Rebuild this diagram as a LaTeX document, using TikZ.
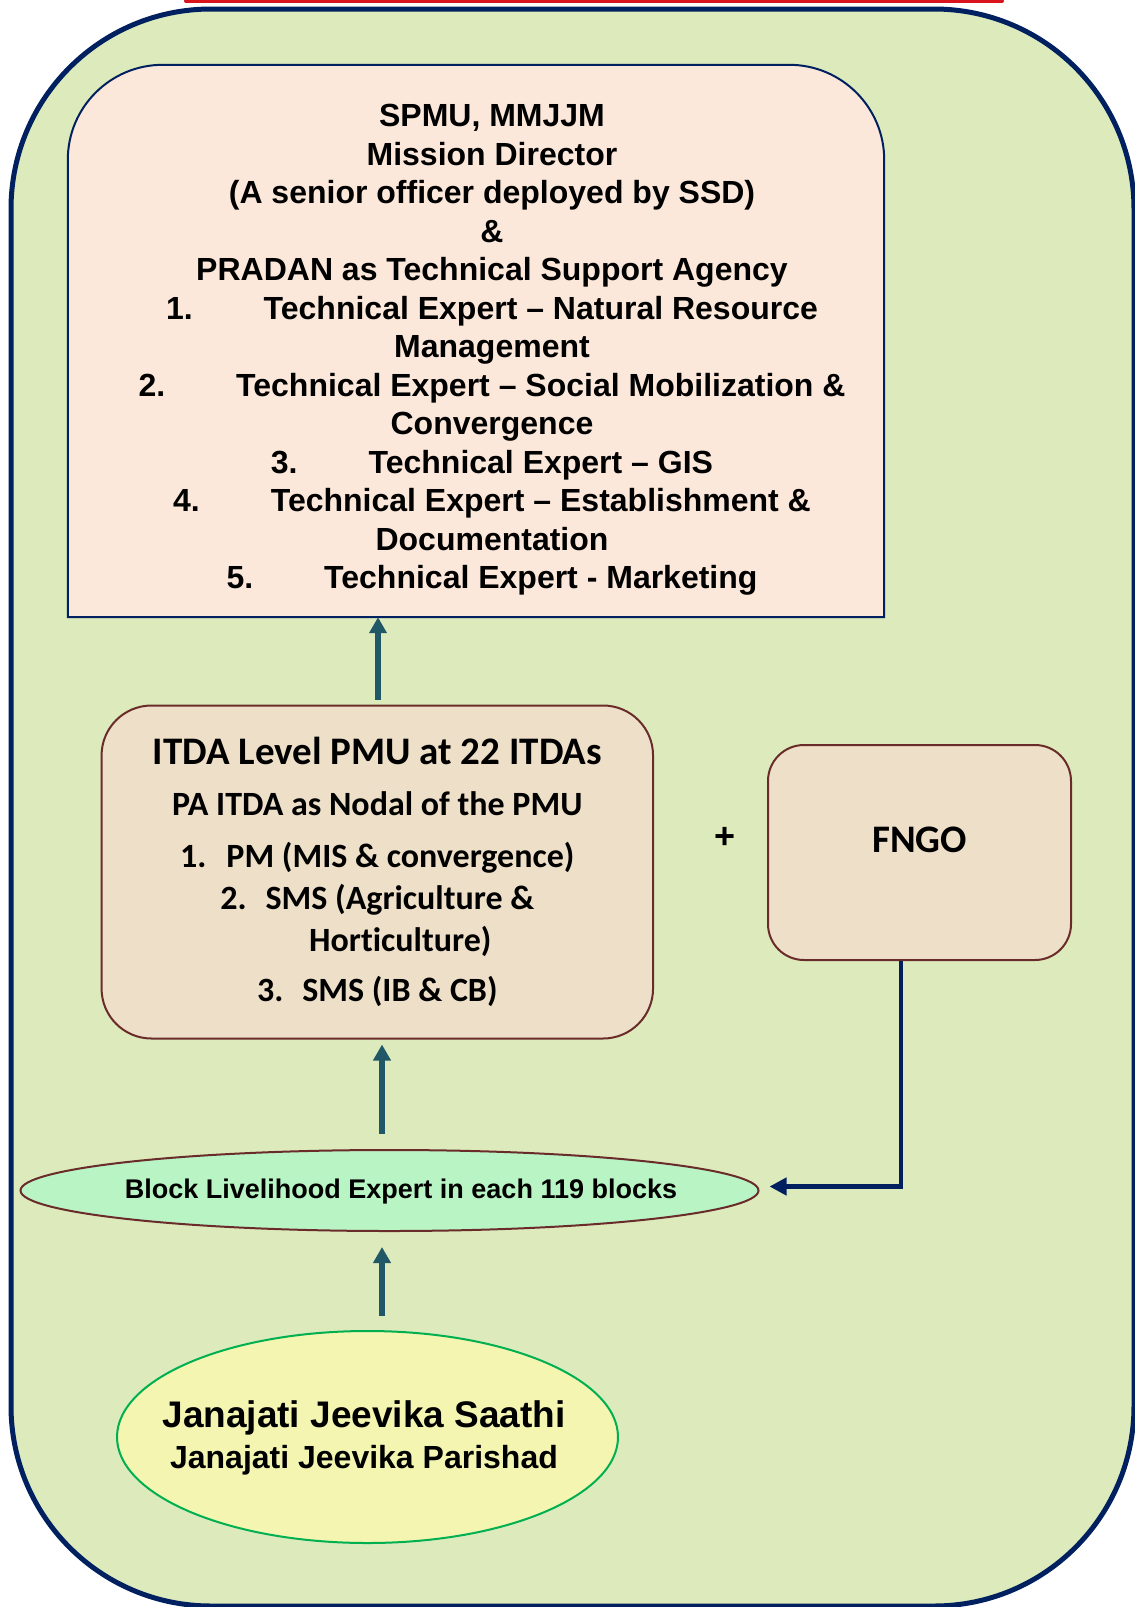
\documentclass[tikz,border=0pt]{standalone}
\usepackage{fontspec}
\setmainfont{Liberation Sans}
\newfontfamily\calibrifont[Ligatures=NoCommon]{Carlito}
\usetikzlibrary{arrows.meta,shapes.geometric}
\definecolor{bggreen}{HTML}{DDEBBC}
\definecolor{navyc}{HTML}{002060}
\definecolor{peach}{HTML}{FCE8DA}
\definecolor{tanc}{HTML}{EEDFC8}
\definecolor{brownc}{HTML}{6A2C2A}
\definecolor{mintc}{HTML}{B9F4C4}
\definecolor{yellowc}{HTML}{F3F5B1}
\definecolor{greenc}{HTML}{00B050}
\definecolor{tealc}{HTML}{215868}
\definecolor{redc}{HTML}{D9141C}
\tikzset{
  outerframe/.style={draw=navyc, line width=5pt, fill=bggreen},
  spmuframe/.style={draw=navyc, line width=2pt, fill=peach},
  spmutextstyle/.style={font=\bfseries\fontsize{32}{38.5}\selectfont, align=center, inner sep=0pt},
  tanbox/.style={draw=brownc, line width=2pt, fill=tanc, rounded corners=50pt, inner sep=0pt},
  uparrow/.style={draw=tealc, line width=6pt, -{Triangle[length=16pt,width=17pt]}},
  fbarrow/.style={draw=navyc, line width=4.5pt, -{Triangle[length=17pt,width=17pt]}},
}
\begin{document}
\begin{tikzpicture}[x=1pt,y=-1pt]
\useasboundingbox (0,0) rectangle (1135,1607);
\clip (0,0) rectangle (1135,1607);
\fill[white] (0,0) rectangle (1135,1607);
\draw[redc, line width=4pt, line cap=round] (186,1) -- (1002,1);
\draw[outerframe, rounded corners=200pt] (11,9) rectangle (1134,1606);

% top box
\node[minimum width=816pt, minimum height=552pt, inner sep=0pt] (spmu) at (476,341) {};
\draw[spmuframe] (spmu.south west) -- ([yshift=-95pt]spmu.north west)
  arc[start angle=180, end angle=90, radius=95pt] -- ([xshift=-95pt]spmu.north east)
  arc[start angle=90, end angle=0, radius=95pt] -- (spmu.south east) -- cycle;
\node[spmutextstyle] (spmutext) at (492,350) {SPMU, MMJJM\\Mission Director\\(A senior officer deployed by SSD)\\\&\\PRADAN as Technical Support Agency\\1.\hspace{71pt}Technical Expert – Natural Resource\\Management\\2.\hspace{71pt}Technical Expert – Social Mobilization \&\\Convergence\\3.\hspace{71pt}Technical Expert – GIS\\4.\hspace{71pt}Technical Expert – Establishment \&\\Documentation\\5.\hspace{71pt}Technical Expert - Marketing};

% ITDA box
\node[tanbox, minimum width=551.5pt, minimum height=333pt, align=center,
  font=\calibrifont\bfseries\fontsize{34}{42}\selectfont] (itda) at (377.3,872)
  {{\fontsize{39}{42}\selectfont ITDA Level PMU at 22 ITDAs}\\[9pt]PA ITDA as Nodal of the PMU\\[10pt]1.\hspace{20pt}PM (MIS \& convergence)\\2.\hspace{19pt}SMS (Agriculture \&\\\hspace*{46pt}Horticulture)\\[8pt]3.\hspace{19pt}SMS (IB \& CB)};

% FNGO
\node[tanbox, rounded corners=36pt, minimum width=303pt, minimum height=215pt,
  font=\calibrifont\bfseries\fontsize{39}{42}\selectfont] (fngo) at (919.5,852.5) {\raisebox{0pt}[0pt][0pt]{FNGO}};
\node[font=\bfseries\fontsize{36}{40}\selectfont, inner sep=0pt] (plus) at (725,838) {+};

% block ellipse
\node[ellipse, draw=brownc, line width=2pt, fill=mintc, minimum width=738pt, minimum height=81pt, inner sep=0pt] (ble) at (389.5,1190.5) {};
\node[font=\bfseries\fontsize{27}{32}\selectfont, inner sep=0pt] (bletext) at (401,1192) {Block Livelihood Expert in each 119 blocks};

% bottom ellipse
\node[ellipse, draw=greenc, line width=2pt, fill=yellowc, minimum width=501pt, minimum height=212pt, inner sep=0pt] (jjs) at (367.5,1437) {};
\node[font=\bfseries\fontsize{32}{40.5}\selectfont, align=center, inner sep=0pt] (jjstext) at (364,1438) {{\fontsize{37}{40.5}\selectfont Janajati Jeevika Saathi}\\Janajati Jeevika Parishad};

% connectors
\coordinate (a1) at (378,0);
\coordinate (a2) at (382,0);
\coordinate (fx) at (901,0);
\draw[uparrow, shorten <=5pt] (itda.north -| a1) -- (spmu.south -| a1);
\draw[uparrow, shorten <=15pt, shorten >=5pt] (ble.north -| a2) -- (itda.south -| a2);
\draw[uparrow, shorten <=14pt, shorten >=15pt] (jjs.north -| a2) -- (ble.south -| a2);
\draw[fbarrow, shorten >=10pt] (fngo.south -| fx) |- ([yshift=4pt]ble.east);
\end{tikzpicture}
\end{document}
